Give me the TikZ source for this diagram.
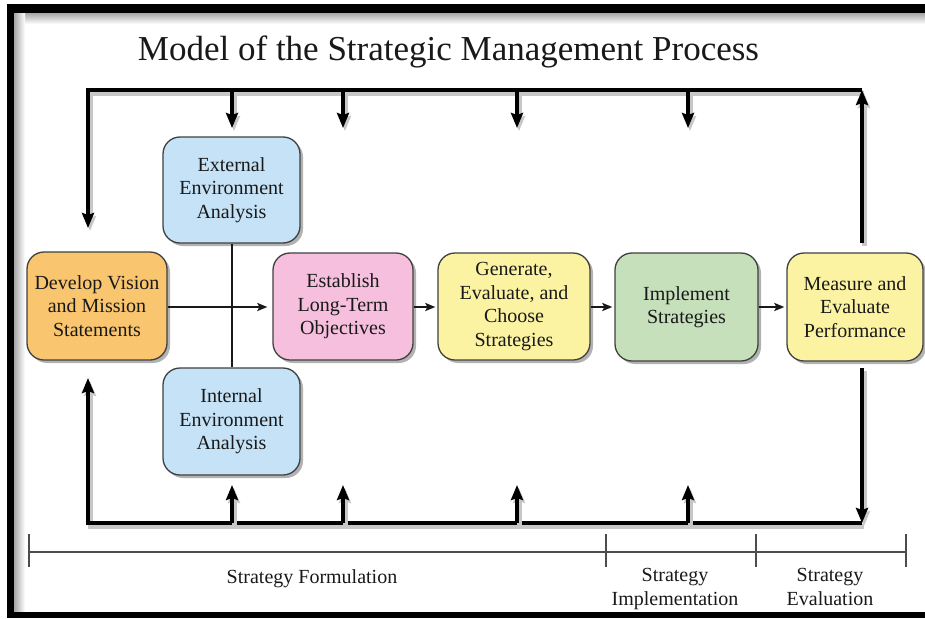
\documentclass[tikz,border=0pt]{standalone}
\usepackage{fontspec}
\setmainfont{Liberation Serif}
\usetikzlibrary{arrows.meta,shadows}
\definecolor{cOrange}{RGB}{249,197,110}
\definecolor{cPink}{RGB}{246,191,221}
\definecolor{cYellow}{RGB}{252,243,162}
\definecolor{cGreen}{RGB}{198,224,187}
\definecolor{cBlue}{RGB}{197,226,246}
\begin{document}
\begin{tikzpicture}[x=1pt,y=-1pt,
  box/.style={draw=black!75, line width=1.3pt, rounded corners=17pt, inner sep=0pt,
    align=center, font=\fontsize{20}{23.5}\selectfont, text=black!90,
    drop shadow={shadow xshift=3pt, shadow yshift=-3pt, opacity=0.3, fill=black}},
  flow/.style={line width=2pt, black!90, -{Stealth[length=10pt,width=8pt,inset=2pt]}},
  loopline/.style={line width=4pt, black,
    preaction={draw, black!22, line width=5pt, transform canvas={shift={(2pt,-3pt)}}}},
  looptip/.style={-{Stealth[length=15pt,width=12pt,inset=2pt]}},
  phase/.style={font=\fontsize{20}{23.5}\selectfont, text=black!90, align=center},
  tick/.style={line width=1.2pt, black!70}]
\useasboundingbox (0,0) rectangle (925,618);
\fill[white] (0,0) rectangle (925,618);
% frame
\shade[top color=black!35, bottom color=white] (14,13) rectangle (925,24);
\shade[left color=black!35, right color=white] (14,13) rectangle (25,612);
\fill[black] (7,4) rectangle (925,13);
\fill[black] (7,4) rectangle (14,618);
\fill[black] (7,612) rectangle (925,618);

% title
\node[font=\fontsize{35}{40}\selectfont, text=black!90, anchor=base] (title) at (448.5,60) {Model of the Strategic Management Process};

% boxes
\node[box, fill=cOrange, minimum width=140pt, minimum height=108pt] (dev) at (97,306) {Develop Vision\\and Mission\\Statements};
\node[box, fill=cBlue, minimum width=137pt, minimum height=106pt] (ext) at (231.5,190) {External\\Environment\\Analysis};
\node[box, fill=cBlue, minimum width=137pt, minimum height=107pt] (int) at (231.5,421.5) {Internal\\Environment\\Analysis};
\node[box, fill=cPink, minimum width=140pt, minimum height=107pt] (est) at (343,306.5) {Establish\\Long-Term\\Objectives};
\node[box, fill=cYellow, minimum width=152pt, minimum height=107pt] (gen) at (514,306.5) {Generate,\\Evaluate, and\\Choose\\Strategies};
\node[box, fill=cGreen, minimum width=143pt, minimum height=108pt] (imp) at (686.5,307) {Implement\\Strategies};
\node[box, fill=cYellow, minimum width=136pt, minimum height=108pt] (mea) at (855,307) {Measure and\\Evaluate\\Performance};

% inner connectors
\draw[line width=2pt, black!90] (ext.south) -- (int.north);
\draw[flow, shorten >=5pt] (dev.east |- 0,307) -- (est.west |- 0,307);
\draw[flow, shorten >=2pt] (est.east |- 0,307) -- (gen.west |- 0,307);
\draw[flow, shorten >=2pt] (gen.east |- 0,307) -- (imp.west |- 0,307);
\draw[flow, shorten >=2pt] (imp.east |- 0,307) -- (mea.west |- 0,307);

% feedback loop coordinates
\coordinate (TL) at (88,90);
\coordinate (TR) at (862,90);
\coordinate (BL) at (88,523);
\coordinate (BR) at (862,523);
\coordinate (LT) at (88,228);
\coordinate (LB) at (88,378);
\coordinate (RT) at (862,243);
\coordinate (RB) at (862,368);
\foreach \i/\x in {1/232,2/343,3/517,4/688}{
  \coordinate (t\i) at (\x,90);
  \coordinate (ta\i) at (\x,128);
  \coordinate (b\i) at (\x,523);
  \coordinate (ba\i) at (\x,485);
}

\draw[loopline, looptip] (TR) -- (TL) -- (LT);
\draw[loopline, looptip] (RT) -- (TR);
\draw[loopline, looptip] (BR) -- (BL) -- (LB);
\draw[loopline, looptip] (RB) -- (BR);
\foreach \i in {1,2,3,4}{
  \draw[loopline, looptip] (t\i) -- (ta\i);
  \draw[loopline, looptip] (b\i) -- (ba\i);
}

% phase scale
\coordinate (s0) at (29,552);
\coordinate (s1) at (606,552);
\coordinate (s2) at (756,552);
\coordinate (s3) at (906,552);
\draw[tick] (s0) -- (s3);
\foreach \s in {s0,s1,s2,s3}{
  \draw[tick] ([yshift=-15pt]\s) -- ([yshift=18pt]\s);
}
\node[phase, anchor=base] (pf) at (312,583) {Strategy Formulation};
\node[phase, anchor=base] (pi) at (675,605) {Strategy\\Implementation};
\node[phase, anchor=base] (pe) at (830,605) {Strategy\\Evaluation};
\end{tikzpicture}
\end{document}
